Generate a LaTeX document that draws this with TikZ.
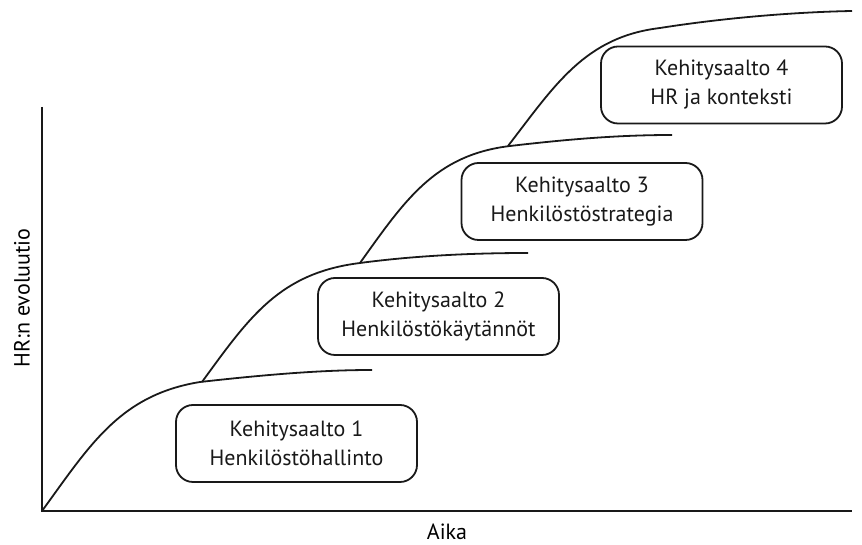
\documentclass[tikz,border=0pt]{standalone}
\usepackage{fontspec}
\setmainfont{PT Sans}
\usetikzlibrary{positioning}

\begin{document}
\begin{tikzpicture}[x=1pt,y=1pt,font=\fontsize{22}{29}\selectfont,
 axis/.style={line width=2pt,black!90},
 wave/.style={line width=1.8pt,black!90},
 wavebox/.style={draw=black!90,line width=1.8pt,rounded corners=17pt,minimum width=241pt,minimum height=77pt,align=center,text=black!90,inner sep=2pt}]
\useasboundingbox (0,0) rectangle (862,545);
% axes
\coordinate (o) at (42,34);
\coordinate (ytop) at (42,438);
\coordinate (xend) at (852,34);
\draw[axis] (ytop) -- (o) -- (xend);
\node (aika) at (447,13) {Aika};
\node[rotate=90] (hr) at (22,247) {HR:n evoluutio};
% waves
\draw[wave] (o) .. controls (90,100) and (120,150) .. (200,163) .. controls (280,172) and (330,175) .. (372,175);
\draw[wave] (202,163) .. controls (250,229) and (280,272) .. (360,282) .. controls (420,290) and (480,292) .. (528,292);
\draw[wave] (360,282) .. controls (405,345) and (435,390) .. (510,399) .. controls (570,406) and (620,410) .. (672,410);
\draw[wave] (508,399) .. controls (555,460) and (585,508) .. (660,517) .. controls (730,528) and (800,533) .. (852,534);
% boxes
\node[wavebox] (w1) at (296.5,101.5) {Kehitysaalto 1\\Henkilöstöhallinto};
\node[wavebox] (w2) at (438.5,228.5) {Kehitysaalto 2\\Henkilöstökäytännöt};
\node[wavebox] (w3) at (582,343.5) {Kehitysaalto 3\\Henkilöstöstrategia};
\node[wavebox] (w4) at (721.5,460) {Kehitysaalto 4\\HR ja konteksti};
\end{tikzpicture}
\end{document}
